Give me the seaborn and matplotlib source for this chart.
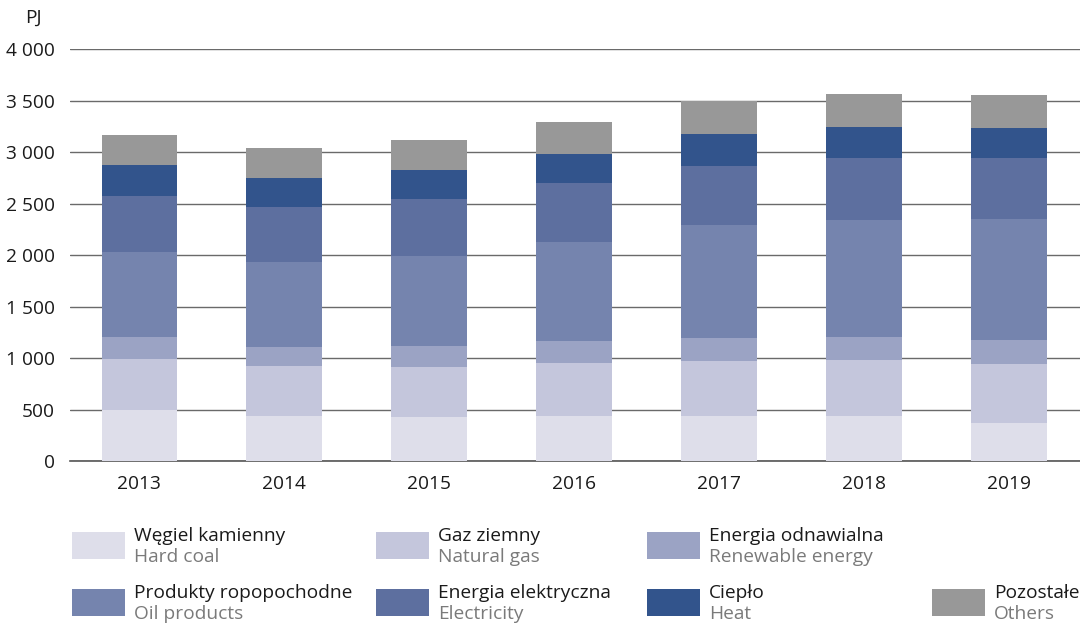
import seaborn as sns
import numpy as np
import matplotlib.pyplot as plt
from matplotlib.patches import Rectangle
from matplotlib.ticker import FuncFormatter

years = ["2013", "2014", "2015", "2016", "2017", "2018", "2019"]

hard_coal = [495, 435, 425, 435, 435, 435, 370]
natural_gas = [497, 487, 487, 516, 536, 546, 572]
renewable = [208, 185, 205, 215, 227, 227, 233]
oil_products = [835, 828, 877, 964, 1091, 1136, 1179]
electricity = [535, 536, 555, 575, 581, 604, 594]
heat = [302, 282, 273, 282, 302, 292, 283]
others = [292, 283, 292, 302, 325, 322, 321]

names_pl = ["Węgiel kamienny", "Gaz ziemny", "Energia odnawialna",
            "Produkty ropopochodne", "Energia elektryczna", "Ciepło", "Pozostałe"]
names_en = ["Hard coal", "Natural gas", "Renewable energy",
            "Oil products", "Electricity", "Heat", "Others"]
colors = ["#dedeea", "#c4c6dc", "#9ba3c4", "#7584ae", "#5d6f9f", "#32548c", "#989898"]

series = [hard_coal, natural_gas, renewable, oil_products, electricity, heat, others]

sns.set_style("white")
plt.rcParams["font.family"] = ["Open Sans", "DejaVu Sans"]
FS = 13.8

fig = plt.figure(figsize=(10.8, 6.23), dpi=100)
ax = fig.add_axes([0.065, 0.26, 0.935, 0.661])

bottom = np.zeros(len(years))
for vals, col in zip(series, colors):
    sns.barplot(x=years, y=vals, bottom=bottom, color=col, saturation=1,
                width=0.52, errorbar=None, linewidth=0, ax=ax, zorder=3)
    bottom = bottom + np.array(vals)

ax.set_ylim(0, 4000)
ax.set_xlim(-0.476, 6.49)
ax.set_yticks(range(0, 4001, 500))
ax.yaxis.set_major_formatter(FuncFormatter(lambda v, p: f"{int(v):,}".replace(",", " ")))
ax.yaxis.grid(True, color="#6a6a6a", linewidth=1.0, zorder=0)
ax.set_axisbelow(True)
for s in ["left", "right", "top"]:
    ax.spines[s].set_visible(False)
ax.spines["bottom"].set_color("#555555")
ax.spines["bottom"].set_linewidth(1.2)
ax.tick_params(axis="both", length=0, labelsize=FS, colors="#1a1a1a")
ax.tick_params(axis="y", pad=11)
ax.tick_params(axis="x", pad=10)
ax.set_xlabel("")
ax.set_ylabel("")
fig.text(25 / 1080, 1 - 18 / 623, "PJ", fontsize=FS, color="#1a1a1a", va="center")

# legend, laid out by hand: 3 columns in row one, 4 in row two
W, H = 1080, 623
slots = [(72, 532), (376, 532), (647, 532),
         (72, 589), (376, 589), (647, 589), (932, 589)]
for (x, y), pl, en, col in zip(slots, names_pl, names_en, colors):
    fig.add_artist(Rectangle((x / W, 1 - (y + 27) / H), 53 / W, 27 / H,
                             facecolor=col, edgecolor="none", transform=fig.transFigure))
    fig.text((x + 62) / W, 1 - (y + 4) / H, pl, fontsize=FS, color="#1a1a1a", va="center")
    fig.text((x + 62) / W, 1 - (y + 25) / H, en, fontsize=FS, color="#7a7a7a", va="center")

fig.savefig("out.png", dpi=100)
